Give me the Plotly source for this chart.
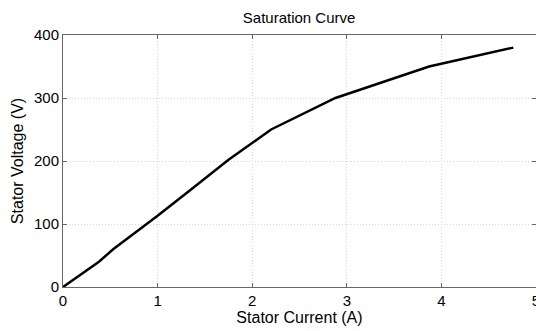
import plotly.graph_objects as go

# Stator current (A) and voltage (V) of the saturation curve
current_a = [0.0, 0.38, 0.53, 0.75, 1.0, 1.33, 1.75, 2.2, 2.88, 3.87, 4.76]
voltage_v = [0, 40, 60, 85, 113, 152, 202, 250, 300, 350, 380]

x_ticks = [0, 1, 2, 3, 4, 5]
y_ticks = [0, 100, 200, 300, 400]

font = "Liberation Sans, Arial, sans-serif"

fig = go.Figure()
fig.add_trace(go.Scatter(
    x=current_a, y=voltage_v, mode="lines",
    line=dict(color="black", width=2.5),
    showlegend=False,
))

axis_common = dict(
    showline=True, linecolor="#666666", linewidth=1, mirror="ticks",
    ticks="inside", ticklen=4, tickcolor="#666666",
    showgrid=True, gridcolor="#d8d8d8", griddash="1px,2px", gridwidth=1,
    zeroline=False, ticklabeloverflow="allow", automargin=False,
    tickfont=dict(family=font, size=15, color="black"),
)

fig.update_layout(
    width=536, height=331,
    margin=dict(l=63, r=0, t=35, b=44, autoexpand=False),
    paper_bgcolor="white", plot_bgcolor="white",
    title=dict(text="Saturation Curve", x=0.558, xanchor="center",
               y=0.945, yanchor="middle",
               font=dict(family=font, size=15, color="black")),
    xaxis=dict(range=[0, 5], tickvals=x_ticks,
               title=dict(text="Stator Current (A)", standoff=0,
                          font=dict(family=font, size=16, color="black")),
               **axis_common),
    yaxis=dict(range=[0, 400], tickvals=y_ticks,
               title=dict(text="Stator Voltage (V)", standoff=6,
                          font=dict(family=font, size=16, color="black")),
               **axis_common),
)

fig.write_html("out.html")
